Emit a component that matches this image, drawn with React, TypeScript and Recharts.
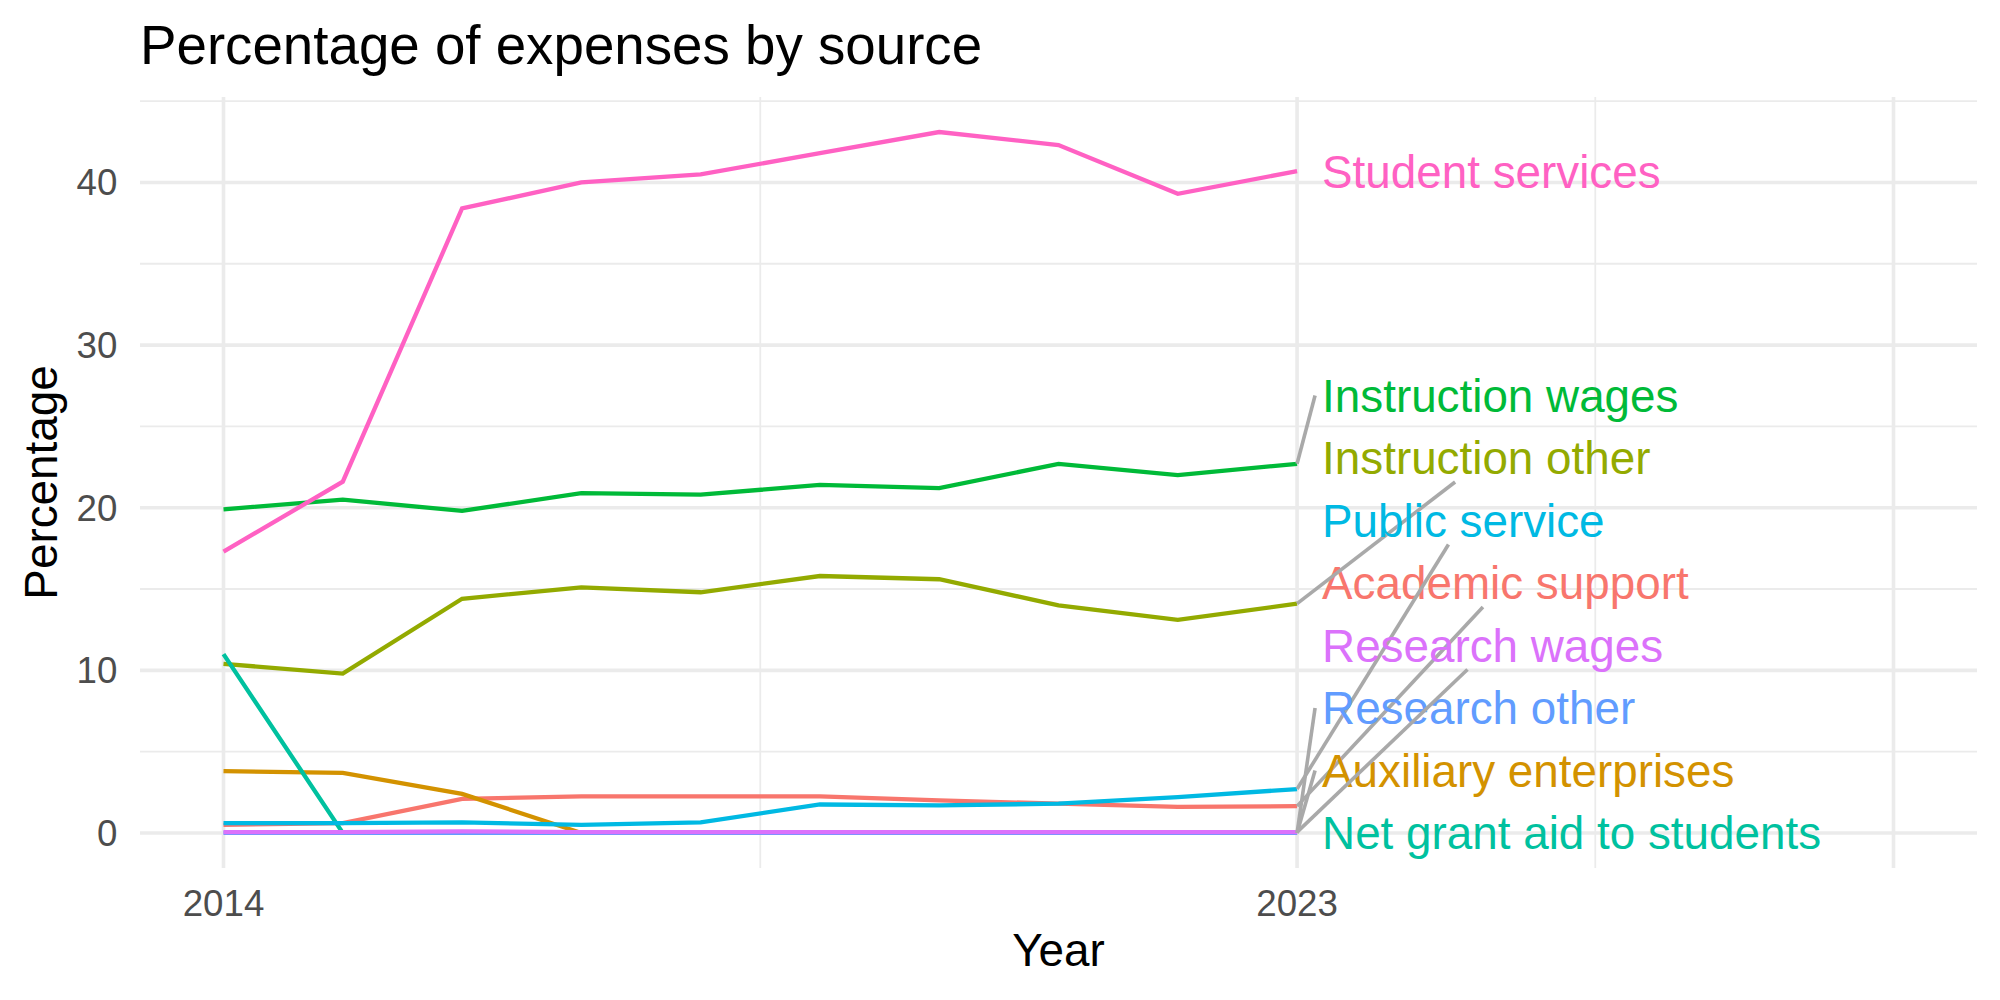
import { LabelList, Line, LineChart, ReferenceLine, XAxis, YAxis } from "recharts";

const years = [2014, 2015, 2016, 2017, 2018, 2019, 2020, 2021, 2022, 2023];

const academicSupport = [0.5, 0.6, 2.1, 2.25, 2.25, 2.25, 2.0, 1.8, 1.6, 1.65];
const auxiliaryEnterprises = [3.8, 3.7, 2.4, 0, 0, 0, 0, 0, 0, 0];
const instructionOther = [10.4, 9.8, 14.4, 15.1, 14.8, 15.8, 15.6, 14.0, 13.1, 14.1];
const instructionWages = [19.9, 20.5, 19.8, 20.9, 20.8, 21.4, 21.2, 22.7, 22.0, 22.7];
const netGrantAid = [11.0, 0, 0, 0, 0, 0, 0, 0, 0, 0];
const publicService = [0.6, 0.6, 0.65, 0.5, 0.65, 1.75, 1.7, 1.8, 2.2, 2.7];
const researchOther = [0, 0, 0, 0, 0, 0, 0, 0, 0, 0];
const researchWages = [0.05, 0.05, 0.1, 0.05, 0.05, 0.05, 0.05, 0.05, 0.05, 0.05];
const studentServices = [17.3, 21.6, 38.4, 40.0, 40.5, 41.8, 43.1, 42.3, 39.3, 40.7];

type Series = { key: string; name: string; color: string; values: number[] };

// drawn in this order (alphabetical, like the ggplot groups)
const series: Series[] = [
  { key: "academic", name: "Academic support", color: "#F8766D", values: academicSupport },
  { key: "auxiliary", name: "Auxiliary enterprises", color: "#D39200", values: auxiliaryEnterprises },
  { key: "instrOther", name: "Instruction other", color: "#93AA00", values: instructionOther },
  { key: "instrWages", name: "Instruction wages", color: "#00BA38", values: instructionWages },
  { key: "netGrant", name: "Net grant aid to students", color: "#00C19F", values: netGrantAid },
  { key: "public", name: "Public service", color: "#00B9E3", values: publicService },
  { key: "resOther", name: "Research other", color: "#619CFF", values: researchOther },
  { key: "resWages", name: "Research wages", color: "#DB72FB", values: researchWages },
  { key: "student", name: "Student services", color: "#FF61C3", values: studentServices },
];

// labels stacked bottom to top
const labelOrder = ["netGrant", "auxiliary", "resOther", "resWages", "academic", "public", "instrOther", "instrWages", "student"];

const data = years.map((year, i) => {
  const row: Record<string, number> = { year };
  series.forEach((s) => (row[s.key] = s.values[i]));
  return row;
});

const FONT = "'Liberation Sans', Arial, Helvetica, sans-serif";
const W = 2000;
const H = 1000;
const PLOT_TOP = 97;
const PLOT_BOTTOM = 868;
const PLOT_LEFT = 140;
const PLOT_RIGHT = 1977;
const Y_DOMAIN: [number, number] = [-2.155, 45.255];
const X_DOMAIN: [number, number] = [2013.3, 2028.7];
const LABEL_SIZE = 45.8;
const LABEL_GAP = 62.5;
const GRID = "#EBEBEB";

const pxPerUnit = (PLOT_BOTTOM - PLOT_TOP) / (Y_DOMAIN[1] - Y_DOMAIN[0]);

// repel-like stacking of end labels: offset (px) of each label from its line end
const labelShift: Record<string, number> = {};
{
  let prev = Infinity;
  labelOrder.forEach((key) => {
    const s = series.find((d) => d.key === key)!;
    const py = PLOT_BOTTOM - (s.values[s.values.length - 1] - Y_DOMAIN[0]) * pxPerUnit;
    const ly = Math.min(py, prev - LABEL_GAP);
    labelShift[key] = ly - py;
    prev = ly;
  });
}

let ctx: CanvasRenderingContext2D | null = null;
const textWidth = (t: string) => {
  if (!ctx) ctx = document.createElement("canvas").getContext("2d");
  if (!ctx) return t.length * LABEL_SIZE * 0.5;
  ctx.font = `${LABEL_SIZE}px 'Liberation Sans'`;
  return ctx.measureText(t).width;
};

const EndLabel = (props: any, s: Series) => {
  const { x, y, index } = props;
  if (index !== years.length - 1 || x == null || y == null) return null;
  const tx = x + 25;
  const ly = y + labelShift[s.key];
  const w = textWidth(s.name);
  const halfH = 24;
  const cx = tx + w / 2;
  const dy = Math.abs(ly - y);
  let seg = null;
  if (dy > halfH) {
    let ex: number;
    let ey: number;
    if (dy / (cx - x) < 0.72) {
      ex = tx - 7;
      ey = ly;
    } else {
      const t = (dy - halfH) / dy;
      ex = x + t * (cx - x);
      ey = y + t * (ly - y);
    }
    seg = <line x1={x} y1={y} x2={ex} y2={ey} stroke="#A9A9A9" strokeWidth={3.6} />;
  }
  return (
    <g>
      {seg}
      <text x={tx} y={ly + LABEL_SIZE * 0.36} fill={s.color} fontSize={LABEL_SIZE} fontFamily={FONT}>
        {s.name}
      </text>
    </g>
  );
};

const majorY = [0, 10, 20, 30, 40];
const minorY = [5, 15, 25, 35, 45];
const majorX = [2014, 2023, 2028];
const minorX = [2018.5, 2025.5];

export default function App() {
  return (
    <div style={{ position: "absolute", left: 0, top: 0, width: W, height: H, background: "#fff" }}>
      <svg width={W} height={90} style={{ position: "absolute", left: 0, top: 0 }}>
        <text x={PLOT_LEFT} y={64} fontSize={54.7} fontFamily={FONT} fill="#000">
          Percentage of expenses by source
        </text>
      </svg>
      <div style={{ position: "absolute", left: 0, top: 0 }}>
        <LineChart
          width={W}
          height={H}
          data={data}
          margin={{ top: PLOT_TOP, right: W - PLOT_RIGHT, bottom: 0, left: 0 }}
        >
          <XAxis
            dataKey="year"
            type="number"
            domain={X_DOMAIN}
            ticks={[2014, 2023]}
            allowDataOverflow
            height={H - PLOT_BOTTOM}
            axisLine={false}
            tickLine={false}
            tickSize={0}
            tickMargin={22}
            tick={{ fill: "#4D4D4D", fontSize: 36.7, fontFamily: FONT }}
            label={{
              content: (p: any) => (
                <text
                  x={p.viewBox.x + p.viewBox.width / 2}
                  y={p.viewBox.y + 98}
                  textAnchor="middle"
                  fontSize={45.8}
                  fontFamily={FONT}
                  fill="#000"
                >
                  Year
                </text>
              ),
            }}
          />
          <YAxis
            type="number"
            domain={Y_DOMAIN}
            ticks={majorY}
            allowDataOverflow
            width={PLOT_LEFT}
            axisLine={false}
            tickLine={false}
            tickSize={0}
            tickMargin={22.6}
            tick={{ fill: "#4D4D4D", fontSize: 36.7, fontFamily: FONT }}
            label={{
              content: (p: any) => {
                const cy = p.viewBox.y + p.viewBox.height / 2;
                return (
                  <text
                    x={57}
                    y={cy}
                    transform={`rotate(-90 57 ${cy})`}
                    textAnchor="middle"
                    fontSize={45.8}
                    fontFamily={FONT}
                    fill="#000"
                  >
                    Percentage
                  </text>
                );
              },
            }}
          />
          {minorY.map((v) => (
            <ReferenceLine key={`my${v}`} y={v} stroke={GRID} strokeWidth={1.8} />
          ))}
          {minorX.map((v) => (
            <ReferenceLine key={`mx${v}`} x={v} stroke={GRID} strokeWidth={1.8} />
          ))}
          {majorY.map((v) => (
            <ReferenceLine key={`My${v}`} y={v} stroke={GRID} strokeWidth={3.6} />
          ))}
          {majorX.map((v) => (
            <ReferenceLine key={`Mx${v}`} x={v} stroke={GRID} strokeWidth={3.6} />
          ))}
          {series.map((s) => (
            <Line
              key={s.key}
              type="linear"
              dataKey={s.key}
              stroke={s.color}
              strokeWidth={4.3}
              dot={false}
              isAnimationActive={false}
            >
              <LabelList dataKey={s.key} content={(p: any) => EndLabel(p, s)} />
            </Line>
          ))}
        </LineChart>
      </div>
    </div>
  );
}
